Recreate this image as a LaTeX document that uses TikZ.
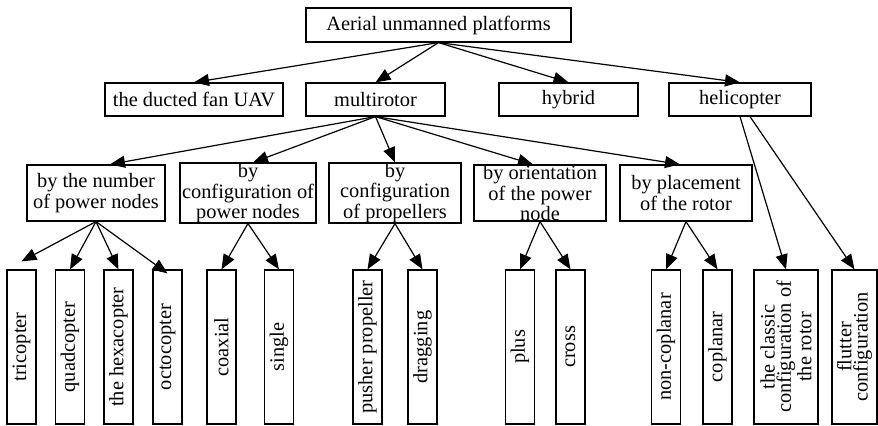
\documentclass[tikz,border=0pt]{standalone}
\usepackage{fontspec}
\setmainfont{Liberation Serif}
\usetikzlibrary{arrows.meta}

\begin{document}
\begin{tikzpicture}[x=0.5pt, y=-0.5pt,
		b/.style = {rectangle, draw=black, line width=0.6pt, inner sep=0pt, align=center, font=\fontsize{10.2}{8.2}\selectfont},
		h/.style = {b, minimum height=16.5pt},
		m/.style = {b, minimum width=66pt, minimum height=28pt},
		v/.style = {b, rotate=90, minimum width=77pt, minimum height=14.5pt},
		r/.style = {-{Triangle[length=7.5pt, width=6pt]}, line width=0.6pt}
		]
		\useasboundingbox (0,0) rectangle (878,426);
		
		%Nodes
		\node[b, minimum width=132.5pt, minimum height=17pt]	(root)	at	(438.5, 25)	{Aerial unmanned platforms};
		
		\node[h, minimum width=89pt]	(fan)	at	(194, 99.5)	{the ducted fan UAV};
		\node[h, minimum width=69.5pt]	(mr)	at	(375.5, 99.5)	{multirotor};
		\node[h, minimum width=69.5pt]	(hyb)	at	(568.5, 99.5)	{hybrid};
		\node[h, minimum width=71pt]	(heli)	at	(740, 99.5)	{helicopter};
		
		\node[m, minimum width=69pt]	(num)	at	(96, 193)	{by the number\\of power nodes};
		\node[m, minimum width=68pt]	(cpn)	at	(248, 193)	{by\\configuration of\\power nodes};
		\node[m]	(cpr)	at	(395, 193)	{by\\configuration\\of propellers};
		\node[m]	(ori)	at	(540, 193)	{by orientation\\of the power\\node};
		\node[m]	(plc)	at	(686, 193)	{by placement\\of the rotor};
		
		\node[v]	(tri)	at	(21.5, 347)	{tricopter};
		\node[v]	(quad)	at	(70, 347)	{quadcopter};
		\node[v]	(hexa)	at	(118.5, 347)	{the hexacopter};
		\node[v]	(octo)	at	(167.5, 347)	{octocopter};
		\node[v]	(coax)	at	(221.5, 347)	{coaxial};
		\node[v]	(sing)	at	(279, 347)	{single};
		\node[v]	(push)	at	(367.5, 347)	{pusher propeller};
		\node[v]	(drag)	at	(422.5, 347)	{dragging};
		\node[v]	(plus)	at	(520, 347)	{plus};
		\node[v]	(cross)	at	(570.5, 347)	{cross};
		\node[v]	(ncop)	at	(666, 347)	{non-coplanar};
		\node[v]	(cop)	at	(717.5, 347)	{coplanar};
		\node[v, minimum height=32pt]	(cls)	at	(786, 347)	{the classic\\configuration of\\the rotor};
		\node[v, minimum height=22.5pt]	(flut)	at	(854.5, 347)	{flutter\\configuration};
		
		%Lines
		\draw[r]	(root.south)	--	(fan.north);
		\draw[r]	(root.south)	--	(mr.north);
		\draw[r]	(root.south)	--	(hyb.north);
		\draw[r]	(root.south)	--	(heli.north);
		
		\draw[r]	(mr.south)	--	([xshift=7pt]num.north);
		\draw[r]	(mr.south)	--	([xshift=2.5pt]cpn.north);
		\draw[r]	(mr.south)	--	(cpr.north);
		\draw[r]	(mr.south)	--	([xshift=-3.5pt]ori.north);
		\draw[r]	(mr.south)	--	([xshift=-3pt]plc.north);
		\draw[r]	(heli.south)	--	(cls.east);
		\draw[r]	([xshift=5pt]heli.south)	--	(flut.east);
		
		\draw[r]	(num.south)	--	([yshift=4pt]tri.east);
		\draw[r]	(num.south)	--	(quad.east);
		\draw[r]	(num.south)	--	(hexa.east);
		\draw[r]	(num.south)	--	([yshift=-2pt]octo.east);
		\draw[r]	(cpn.south)	--	(coax.east);
		\draw[r]	(cpn.south)	--	(sing.east);
		\draw[r]	(cpr.south)	--	(push.east);
		\draw[r]	(cpr.south)	--	(drag.east);
		\draw[r]	(ori.south)	--	(plus.east);
		\draw[r]	(ori.south)	--	(cross.east);
		\draw[r]	(plc.south)	--	(ncop.east);
		\draw[r]	(plc.south)	--	(cop.east);
	\end{tikzpicture}
\end{document}
